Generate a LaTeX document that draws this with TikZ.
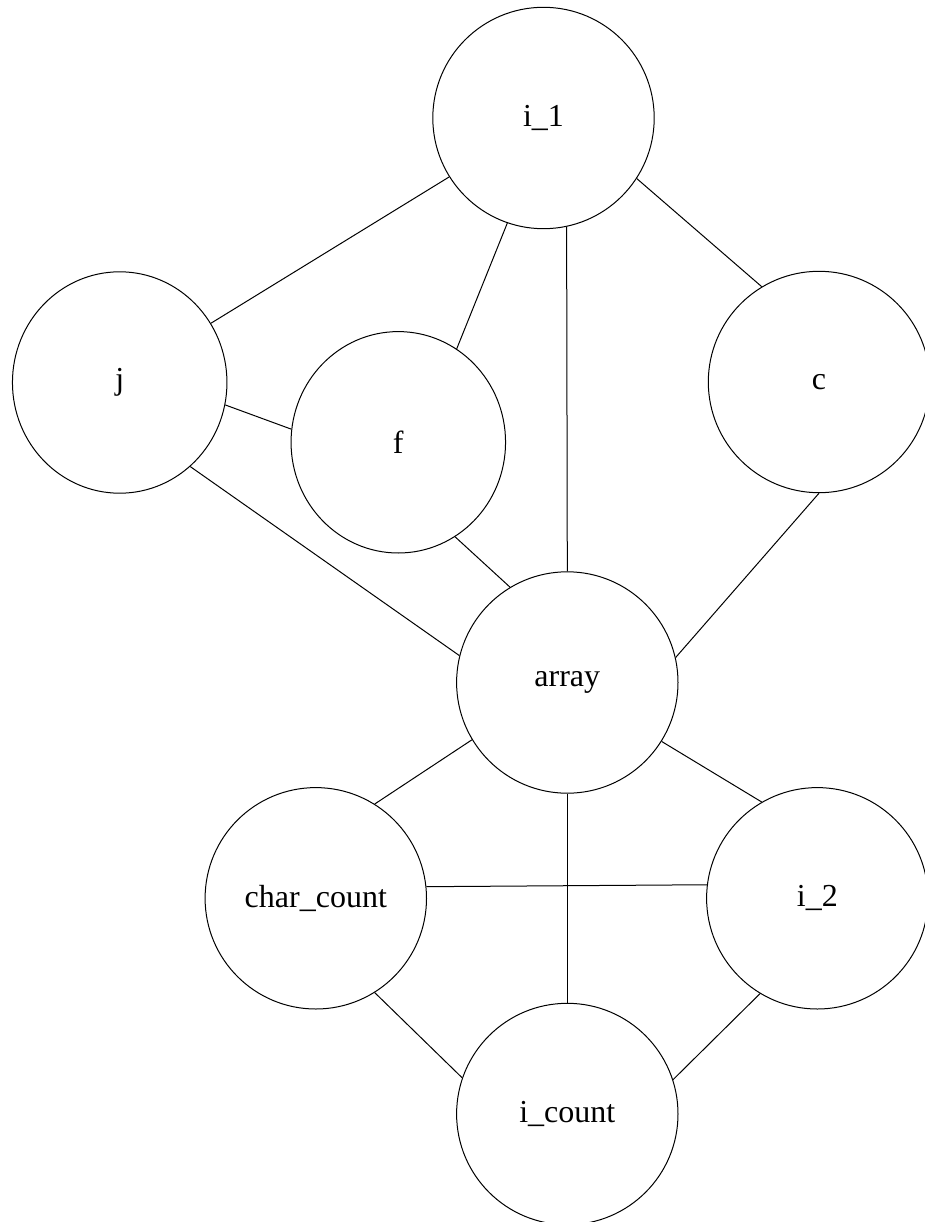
\documentclass[tikz,border=0pt]{standalone}
\usepackage{fontspec}
\setmainfont{Liberation Serif}
\usetikzlibrary{shapes.geometric}
\begin{document}
\begin{tikzpicture}[x=1pt,y=-1pt,
  vnode/.style={draw, line width=1pt, circle, minimum size=221.4pt, inner sep=0pt, font=\fontsize{32}{36}\selectfont},
  vnodeel/.style={draw, line width=1pt, ellipse, minimum width=214.5pt, minimum height=221.4pt, inner sep=0pt, font=\fontsize{32}{36}\selectfont},
  edge/.style={line width=1pt}]
\useasboundingbox (0,0) rectangle (925,1222);
\node[vnode] (i1) at (543.5,118) {i\_1};
\node[vnodeel] (j) at (119.7,382.5) {j};
\node[vnodeel] (f) at (398.3,442.3) {f};
\node[vnode] (c) at (819,382) {c};
\node[vnode] (array) at (567.3,682.5) {array};
\node[vnode] (cc) at (315.8,898.3) {char\_count};
\node[vnode] (i2) at (817.3,898.3) {i\_2};
\node[vnode] (ic) at (567.3,1114) {i\_count};
\draw[edge] (i1.212) -- (j.33);
\draw[edge] (i1.251.8) -- (f.58.9);
\draw[edge] (i1.282.4) -- (array.90);
\draw[edge] (i1.327.9) -- (c.121.6);
\draw[edge] (j.-12.9) -- (f.173.3);
\draw[edge] (j.-50.5) -- (array.166.75);
\draw[edge] (f.-59.1) -- (array.121.9);
\draw[edge] (c.270) -- (array.13.2);
\draw[edge] (array.211.9) -- (cc.58.3);
\draw[edge] (array.328) -- (i2.120.9);
\draw[edge] (array.270) -- (ic.90);
\draw[edge] (cc.6.1) -- (i2.173.9);
\draw[edge] (cc.-58.3) -- (ic.161.6);
\draw[edge] (i2.239.2) -- (ic.18.3);
\end{tikzpicture}
\end{document}
